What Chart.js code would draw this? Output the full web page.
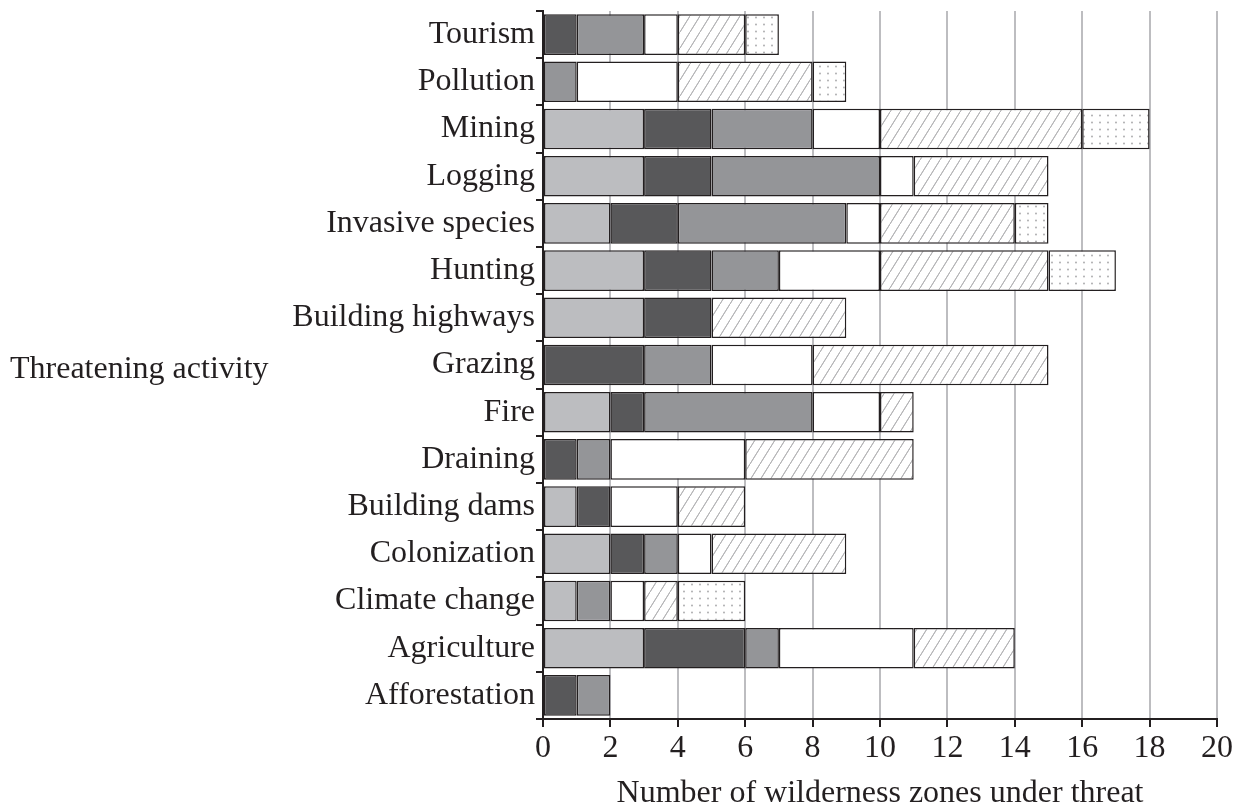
<!DOCTYPE html>
<html><head><meta charset="utf-8">
<script src="https://cdn.jsdelivr.net/npm/chart.js@4/dist/chart.umd.min.js"></script>
<style>html,body{margin:0;padding:0;background:#fff;}canvas{display:block;}</style>
</head><body>
<canvas id="c" width="1242" height="811"></canvas>
<script>
const categories = ["Tourism","Pollution","Mining","Logging","Invasive species","Hunting","Building highways","Grazing","Fire","Draining","Building dams","Colonization","Climate change","Agriculture","Afforestation"];
const seriesLight   = [0,0,3,3,2,3,3,0,2,0,1,2,1,3,0];
const seriesDark    = [1,0,2,2,2,2,2,3,1,1,1,1,0,3,1];
const seriesMedium  = [2,1,3,5,5,2,0,2,5,1,0,1,1,1,1];
const seriesWhite   = [1,3,2,1,1,3,0,3,2,4,2,1,1,4,0];
const seriesHatched = [2,4,6,4,4,5,4,7,1,5,2,4,1,3,0];
const seriesDotted  = [1,1,2,0,1,2,0,0,0,0,0,0,2,0,0];
const xTicks = [0,2,4,6,8,10,12,14,16,18,20];
const xTitle = "Number of wilderness zones under threat";
const yTitle = "Threatening activity";

function nz(a){return a.map(v=>v===0?null:v);}

function hatchPattern(){
  const c=document.createElement('canvas');c.width=10;c.height=16;
  const g=c.getContext('2d');g.fillStyle='#fff';g.fillRect(0,0,10,16);
  g.strokeStyle='#b4b4b6';g.lineWidth=1;
  g.beginPath();
  g.moveTo(-10,32);g.lineTo(10,0);
  g.moveTo(0,16);g.lineTo(10,0);
  g.moveTo(0,32);g.lineTo(20,0);
  g.stroke();
  return g.createPattern(c,'repeat');
}
function dotPattern(){
  const c=document.createElement('canvas');c.width=8;c.height=7;
  const g=c.getContext('2d');g.fillStyle='#fff';g.fillRect(0,0,8,7);
  g.fillStyle='#a6a6a8';g.beginPath();g.arc(4,3.5,0.9,0,Math.PI*2);g.fill();
  return g.createPattern(c,'repeat');
}

const FONT='"Liberation Serif", "Times New Roman", serif';
const INK='#231f20';

const titlesPlugin={
  id:'titles',
  afterDraw(chart){
    const ctx=chart.ctx;ctx.save();
    ctx.fillStyle=INK;ctx.font='32px '+FONT;ctx.textBaseline='alphabetic';
    ctx.textAlign='left';ctx.fillText(yTitle,10,378);
    ctx.textAlign='center';
    ctx.fillText(xTitle,(chart.chartArea.left+chart.chartArea.right)/2,802);
    ctx.restore();
  }
};

const common={borderColor:INK,borderWidth:1.5,borderSkipped:false,barPercentage:0.86,categoryPercentage:1.0};
new Chart(document.getElementById('c'),{
  type:'bar',
  data:{labels:categories,datasets:[
    Object.assign({label:'a',data:nz(seriesLight),backgroundColor:'#bcbdc0'},common),
    Object.assign({label:'b',data:nz(seriesDark),backgroundColor:'#58585a'},common),
    Object.assign({label:'c',data:nz(seriesMedium),backgroundColor:'#949598'},common),
    Object.assign({label:'d',data:nz(seriesWhite),backgroundColor:'#ffffff'},common),
    Object.assign({label:'e',data:nz(seriesHatched),backgroundColor:hatchPattern()},common),
    Object.assign({label:'f',data:nz(seriesDotted),backgroundColor:dotPattern()},common)
  ]},
  options:{
    indexAxis:'y',responsive:false,animation:false,devicePixelRatio:1,
    layout:{padding:{top:11,right:25,left:0,bottom:0}},
    plugins:{legend:{display:false},tooltip:{enabled:false}},
    scales:{
      x:{stacked:true,min:0,max:20,
        afterBuildTicks(s){s.ticks=xTicks.map(v=>({value:v}));},
        ticks:{font:{family:FONT,size:32},color:INK,padding:2,maxRotation:0,autoSkip:false},
        grid:{color:'#bdbdc0',lineWidth:2,tickColor:INK,tickLength:8,tickWidth:2},
        border:{color:INK,width:2},
        afterFit(s){s.height=811-719;s.paddingLeft=0;s.paddingRight=0;}
      },
      y:{stacked:true,
        ticks:{font:{family:FONT,size:32},color:INK,padding:1,autoSkip:false},
        grid:{offset:true,drawOnChartArea:false,color:INK,tickLength:7,lineWidth:2},
        border:{color:INK,width:2},
        afterFit(s){s.width=543;s.paddingTop=0;s.paddingBottom=0;}
      }
    }
  },
  plugins:[titlesPlugin]
});
</script>
</body></html>
